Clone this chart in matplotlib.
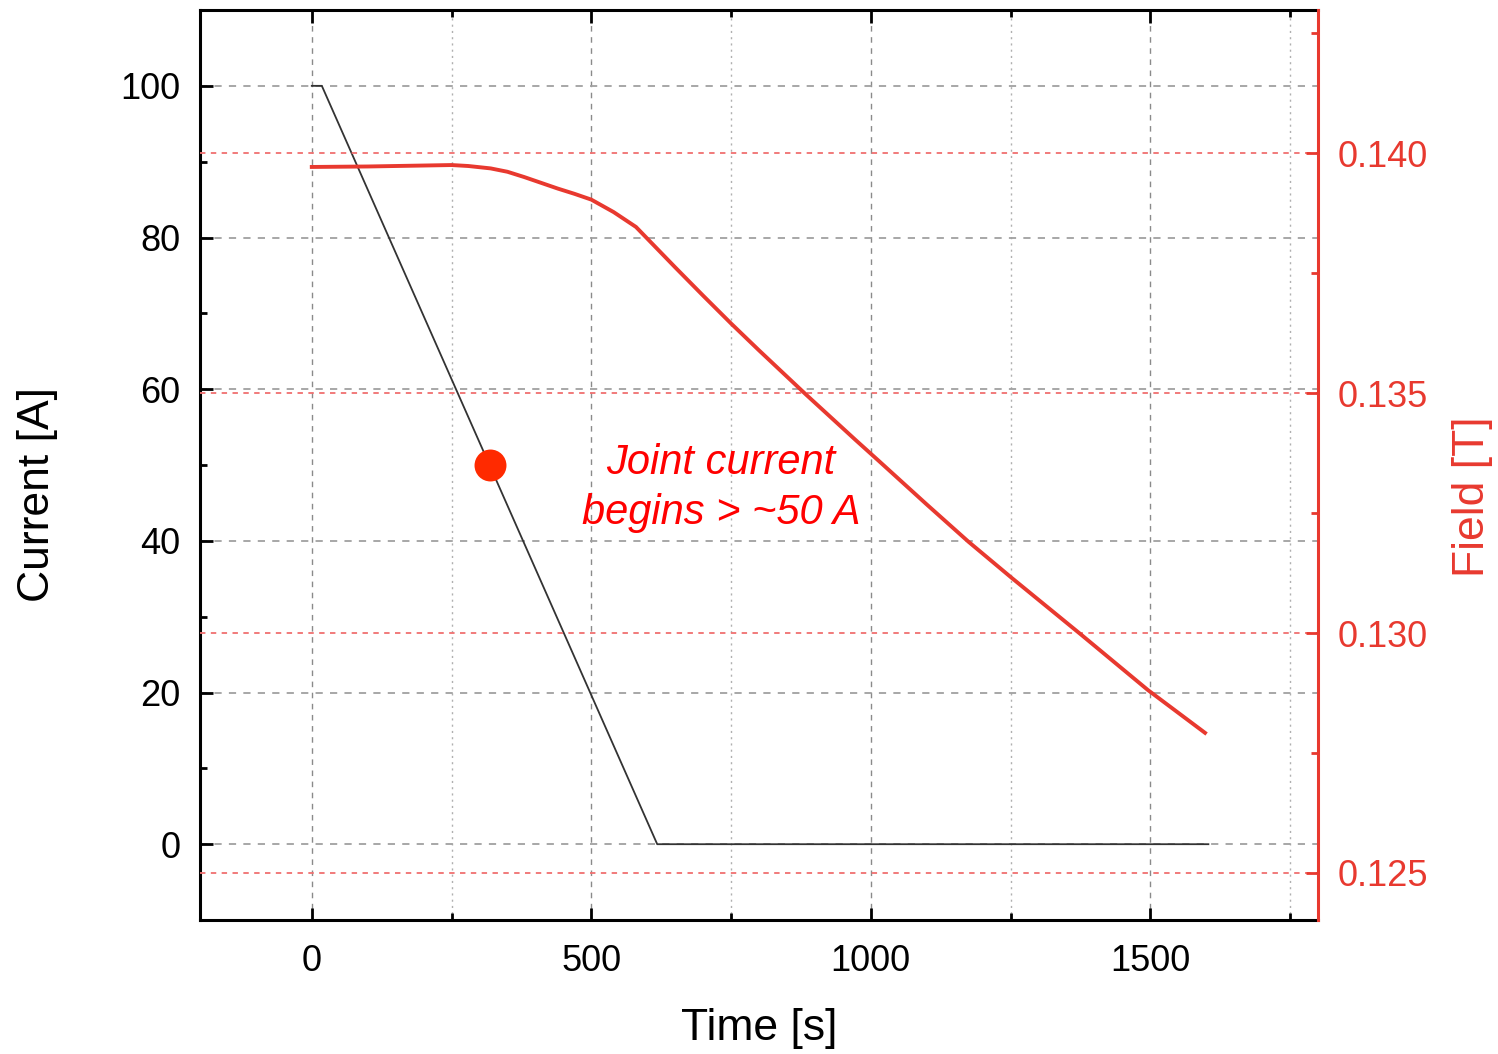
import matplotlib
matplotlib.use("Agg")
import matplotlib.pyplot as plt
from matplotlib.ticker import MultipleLocator

plt.rcParams["font.family"] = ["Liberation Sans", "DejaVu Sans"]

# current ramp (left axis)
t_current = [0, 18, 618, 1604]
current = [100, 100, 0, 0]

# measured field (right axis)
t_field = [0, 100, 200, 250, 280, 320, 350, 380, 410, 440, 470, 500, 540, 580,
           600, 650, 700, 750, 800, 884, 973, 1014, 1100, 1175, 1252, 1377,
           1496, 1598]
field = [0.13971, 0.13972, 0.13974, 0.13975, 0.13973, 0.13968, 0.13961, 0.13950,
         0.13938, 0.13926, 0.13915, 0.13903, 0.13877, 0.13846, 0.13822, 0.13762,
         0.13703, 0.13645, 0.13589, 0.13497, 0.13402, 0.13359, 0.13268, 0.13190,
         0.13115, 0.12996, 0.12881, 0.12792]

# marker where the joint current starts
mark_t = 318
mark_i = 50
note = "Joint current\nbegins > ~50 A"

red = "#e8392f"

fig = plt.figure(figsize=(14.98, 10.54), dpi=100)
ax = fig.add_axes([0.1335, 0.1271, 0.7463, 0.8634])
ax2 = ax.twinx()

ax.plot(t_current, current, color="#333333", lw=1.3, zorder=3)
ax.plot([mark_t], [mark_i], "o", color="#ff2a00", ms=23, mec="none", zorder=4)
ax.text(732, 47, note, color="red", style="italic", fontsize=30,
        ha="center", va="center", linespacing=1.32)

ax2.plot(t_field, field, color=red, lw=2.8, zorder=3)

ax.set_xlim(-200, 1800)
ax.set_ylim(-10, 110)
ax2.set_ylim(0.12402, 0.14298)

ax.xaxis.set_major_locator(MultipleLocator(500))
ax.xaxis.set_minor_locator(MultipleLocator(250))
ax.yaxis.set_major_locator(MultipleLocator(20))
ax.yaxis.set_minor_locator(MultipleLocator(10))
ax2.yaxis.set_major_locator(MultipleLocator(0.005))
ax2.yaxis.set_minor_locator(MultipleLocator(0.0025))
ax2.yaxis.set_major_formatter(plt.FormatStrFormatter("%.3f"))

# grids
ax.grid(which="major", axis="x", color="#8a8a8a", ls=(0, (4, 4)), lw=1.0)
ax.grid(which="minor", axis="x", color="#b0b0b0", ls=(0, (1.5, 3)), lw=1.0)
ax.grid(which="major", axis="y", color="#a0a0a0", ls=(0, (4, 4)), lw=1.3)
ax2.grid(which="major", axis="y", color="#f07070", ls=(0, (3, 3)), lw=1.3)

# spines and ticks
for s in ["left", "bottom", "top"]:
    ax.spines[s].set_linewidth(2.2)
ax.spines["right"].set_visible(False)
for s in ["left", "bottom", "top"]:
    ax2.spines[s].set_visible(False)
ax2.spines["right"].set_color(red)
ax2.spines["right"].set_linewidth(2.2)

ax.tick_params(which="both", direction="in", top=True, right=False,
               labelsize=26, width=2)
ax.tick_params(which="major", length=9)
ax.tick_params(which="minor", length=5)
ax.tick_params(axis="y", pad=14)
ax.tick_params(axis="x", pad=17)
ax2.tick_params(which="both", direction="in", colors=red, labelsize=26,
                width=2, pad=14)
ax2.tick_params(which="major", length=9)
ax2.tick_params(which="minor", length=5)

ax.set_xlabel("Time [s]", fontsize=32)
ax.set_ylabel("Current [A]", fontsize=32)
ax2.set_ylabel("Field [T]", fontsize=32, color=red)
ax.xaxis.set_label_coords(0.5, -0.097)
ax.yaxis.set_label_coords(-0.127, 0.467)
ax2.yaxis.set_label_coords(1.12, 0.465)

fig.savefig("out.png", dpi=100)
